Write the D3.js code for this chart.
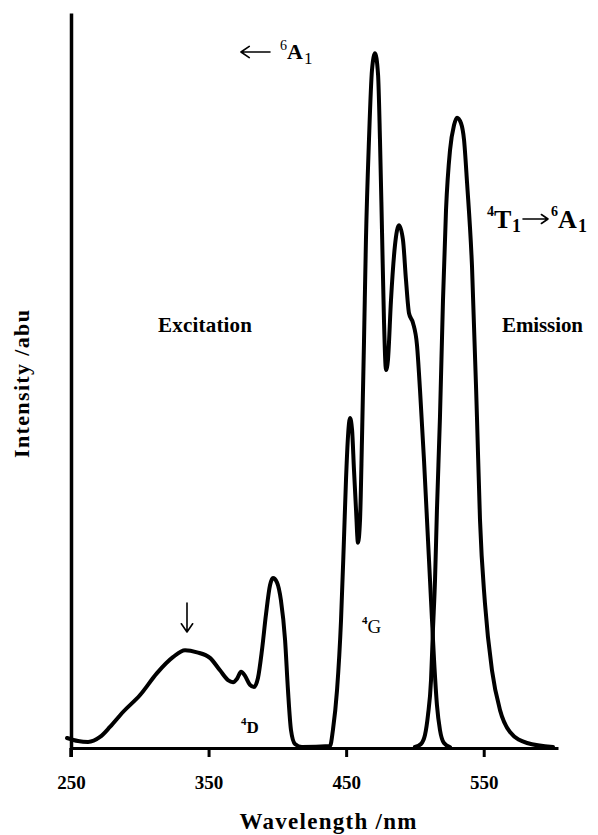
<!DOCTYPE html>
<html>
<head>
<meta charset="utf-8">
<script src="https://cdn.jsdelivr.net/npm/d3@7"></script>
<style>
  html, body { margin: 0; padding: 0; background: #fff; }
  svg { display: block; }
  text { font-family: "Liberation Serif", "Times New Roman", serif; fill: #000; }
</style>
</head>
<body>
<div id="chart"></div>
<script>
// Wavelength (nm) / intensity (a.b.u.)
const excitationWavelength = [247.1, 255.1, 262.4, 271.1, 278.3, 287.8, 300.2, 312.5, 324.1, 332.9, 341.6, 351.0, 358.3, 364.1, 367.8, 370.7, 373.6, 376.5, 380.1, 383.0, 385.9, 388.8, 391.7, 394.7, 396.8, 399.7, 402.6, 405.6, 407.7, 409.9, 412.8, 417.9, 438.3, 440.4, 443.4, 446.3, 448.4, 449.9, 451.4, 452.8, 454.3, 455.7, 457.2, 458.6, 460.1, 461.5, 463.0, 464.4, 466.6, 468.8, 471.0, 473.2, 474.6, 476.1, 477.5, 479.0, 480.4, 482.6, 485.5, 488.4, 491.3, 493.5, 495.7, 498.6, 501.5, 503.7, 506.6, 509.5, 511.7, 513.9, 516.0, 518.2, 521.1, 525.5];
const excitationIntensity = [1.44, 1.0, 0.87, 1.59, 3.03, 5.19, 7.64, 10.8, 13.1, 14.1, 13.8, 13.0, 11.2, 9.8, 9.5, 10.0, 11.0, 10.4, 9.1, 8.8, 10.1, 14.1, 19.2, 23.5, 24.5, 23.9, 21.3, 15.6, 8.4, 2.6, 0.58, 0.14, 0.29, 2.6, 8.4, 18.5, 30.0, 38.7, 45.1, 47.6, 45.9, 40.1, 34.3, 29.6, 32.9, 44.4, 58.8, 73.3, 87.7, 97.8, 100.2, 97.1, 87.7, 74.3, 61.7, 54.5, 56.0, 64.6, 72.5, 75.4, 73.3, 67.5, 62.7, 61.3, 58.1, 51.6, 41.5, 30.0, 21.3, 12.7, 6.2, 2.6, 0.72, 0.14];

const emissionWavelength = [500.0, 504.4, 507.3, 509.5, 511.7, 513.1, 514.6, 516.0, 518.2, 520.4, 522.6, 525.5, 528.4, 530.6, 533.5, 535.7, 537.9, 541.5, 545.1, 547.3, 550.9, 556.0, 561.8, 569.1, 581.5, 600.4];
const emissionIntensity = [0.14, 0.58, 1.87, 4.76, 9.8, 17.0, 24.2, 34.3, 47.7, 64.6, 77.6, 86.2, 89.8, 90.9, 90.1, 87.7, 81.5, 69.4, 47.7, 32.9, 20.9, 11.2, 5.5, 2.3, 0.72, 0.14];

const xTicks = [250, 350, 450, 550];
const xDomain = [250, 604];
const yDomain = [0, 106];

const W = 598, H = 835;
const svg = d3.select("#chart").append("svg").attr("width", W).attr("height", H);

const x = d3.scaleLinear().domain(xDomain).range([71, 558]);
const y = d3.scaleLinear().domain(yDomain).range([748, 13]);

const exc = excitationWavelength.map((w, i) => ({ w, v: excitationIntensity[i] }));
const emi = emissionWavelength.map((w, i) => ({ w, v: emissionIntensity[i] }));

const line = d3.line().x(d => x(d.w)).y(d => y(d.v)).curve(d3.curveMonotoneX);

// Axes
const xAxis = d3.axisBottom(x).tickValues(xTicks).tickSize(9).tickSizeOuter(0).tickPadding(19);
const gx = svg.append("g").attr("transform", `translate(0,${y(0)})`).call(xAxis);
gx.select(".domain").attr("stroke", "#000").attr("stroke-width", 3);
gx.selectAll(".tick line").attr("stroke", "#000").attr("stroke-width", 3);
gx.selectAll(".tick text")
  .attr("font-family", "Liberation Serif, Times New Roman, serif")
  .attr("font-weight", "bold").attr("font-size", 19).attr("fill", "#000");

const yAxis = d3.axisLeft(y).tickValues([]).tickSizeOuter(0);
const gy = svg.append("g").attr("transform", `translate(${x(250)},0)`).call(yAxis);
gy.select(".domain").attr("stroke", "#000").attr("stroke-width", 3.5);
svg.append("line").attr("x1", x(250)).attr("x2", x(250)).attr("y1", y(0)).attr("y2", y(0) + 9)
  .attr("stroke", "#000").attr("stroke-width", 3.5);

// Curves
svg.append("path").datum(exc).attr("d", line).attr("fill", "none").attr("stroke", "#000")
  .attr("stroke-width", 4).attr("stroke-linejoin", "round").attr("stroke-linecap", "round");
svg.append("path").datum(emi).attr("d", line).attr("fill", "none").attr("stroke", "#000")
  .attr("stroke-width", 4).attr("stroke-linejoin", "round").attr("stroke-linecap", "round");

// Axis titles
svg.append("text").attr("x", 328).attr("y", 829).attr("text-anchor", "middle")
  .attr("font-weight", "bold").attr("font-size", 23).attr("textLength", 177)
  .text("Wavelength /nm");
svg.append("text").attr("transform", "translate(29,384) rotate(-90)").attr("text-anchor", "middle")
  .attr("font-weight", "bold").attr("font-size", 22).attr("textLength", 148)
  .text("Intensity /abu");

// Annotations
svg.append("text").attr("x", 158).attr("y", 332).attr("font-weight", "bold").attr("font-size", 21)
  .attr("textLength", 94).text("Excitation");
svg.append("text").attr("x", 502).attr("y", 332).attr("font-weight", "bold").attr("font-size", 21)
  .attr("textLength", 81).text("Emission");

function arrow(x1, y1, x2, y2, head) {
  const a = Math.atan2(y2 - y1, x2 - x1);
  const h = head || 8, s = 0.6;
  const p1 = [x2 - h * Math.cos(a - s), y2 - h * Math.sin(a - s)];
  const p2 = [x2 - h * Math.cos(a + s), y2 - h * Math.sin(a + s)];
  svg.append("path")
    .attr("d", `M${x1},${y1}L${x2},${y2}M${p1[0]},${p1[1]}L${x2},${y2}L${p2[0]},${p2[1]}`)
    .attr("fill", "none").attr("stroke", "#000").attr("stroke-width", 1.6)
    .attr("stroke-linecap", "round").attr("stroke-linejoin", "round");
}

// ← 6A1
arrow(270, 52, 241, 52, 10);
const t1 = svg.append("text").attr("x", 280).attr("y", 50);
t1.append("tspan").attr("font-size", 14).text("6");
t1.append("tspan").attr("x", 287).attr("y", 59).attr("font-size", 22).attr("font-weight", "bold").text("A");
t1.append("tspan").attr("x", 304).attr("y", 64).attr("font-size", 17).text("1");

// 4T1 → 6A1
const t2 = svg.append("text").attr("x", 487).attr("y", 216);
t2.append("tspan").attr("font-size", 14).attr("font-weight", "bold").text("4");
t2.append("tspan").attr("x", 494).attr("y", 228).attr("font-size", 26).attr("font-weight", "bold").text("T");
t2.append("tspan").attr("x", 512).attr("y", 232).attr("font-size", 18).attr("font-weight", "bold").text("1");
t2.append("tspan").attr("x", 551).attr("y", 216).attr("font-size", 14).attr("font-weight", "bold").text("6");
t2.append("tspan").attr("x", 558).attr("y", 228).attr("font-size", 26).attr("font-weight", "bold").text("A");
t2.append("tspan").attr("x", 578).attr("y", 232).attr("font-size", 18).attr("font-weight", "bold").text("1");
arrow(523, 219, 548, 219, 8);

// down arrow
arrow(187, 603, 187, 632, 10);

// 4D
const t3 = svg.append("text").attr("x", 241).attr("y", 733);
t3.append("tspan").attr("font-size", 11).attr("font-weight", "bold").attr("dy", -8).text("4");
t3.append("tspan").attr("font-size", 17).attr("font-weight", "bold").attr("dy", 8).text("D");

// 4G
const t4 = svg.append("text").attr("x", 362).attr("y", 633);
t4.append("tspan").attr("font-size", 11).attr("font-weight", "bold").attr("dy", -9).text("4");
t4.append("tspan").attr("font-size", 19).attr("dy", 9).text("G");
</script>
</body>
</html>
